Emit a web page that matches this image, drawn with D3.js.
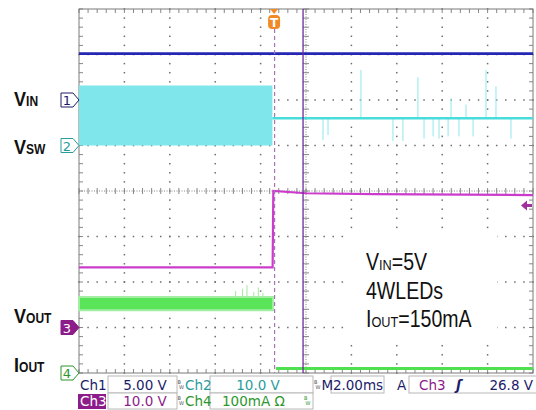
<!DOCTYPE html>
<html>
<head>
<meta charset="utf-8">
<script src="https://cdn.jsdelivr.net/npm/d3@7"></script>
<style>
  body { margin: 0; background: #fff; }
  svg { display: block; }
</style>
</head>
<body>
<svg id="scope" width="536" height="410"></svg>
<script>
// scope settings
const channelNames = ["Ch1", "Ch2", "Ch3", "Ch4"];
const channelScales = ["5.00 V", "10.0 V", "10.0 V", "100mA"];
const unitsPerDiv = [5, 10, 10, 100];
const channelPositions = [2, 1, -3, -4]; // divisions from centre
const channelLabels = [["V", "IN"], ["V", "SW"], ["V", "OUT"], ["I", "OUT"]];
const timeBase = "2.00ms";
const msPerDiv = 2;
const triggerSource = "Ch3";
const triggerLevelText = "26.8 V";
const triggerLevel = 26.8;
const triggerTime = -1.45; // ms
const cursorTime = -0.13;
const noteLines = [["V", "IN", "=5V"], ["4WLEDs", "", ""], ["I", "OUT", "=150mA"]];

// Ch1: VIN (V)
const ch1Time = [-10, 10];
const ch1Value = [5.1, 5.1];
// Ch2: VSW, switching band until OVP trips, then idle with spikes (V)
const ch2BandTime = [-10, -1.48];
const ch2BandLow = [0, 0];
const ch2BandHigh = [13.2, 13.2];
const ch2Time = [-1.48, 10];
const ch2Value = [6.0, 6.0];
const ch2SpikeTime = [0.75, 0.97, 2.42, 3.83, 4.27, 4.93, 5.2, 5.6, 5.86, 6.26, 6.39, 6.74, 7.05, 7.36, 7.93, 8.37, 9.03];
const ch2SpikeValue = [1.2, 2.3, 16.6, 1.0, 1.0, 15.0, 1.5, 2.0, 1.5, 2.0, 10.4, 2.0, 9.0, 2.0, 16.6, 13.0, 1.5];
// Ch3: VOUT (V)
const ch3Time = [-10, -1.47, -1.44, 0, 3, 10];
const ch3Value = [13.2, 13.2, 30.0, 29.5, 29.3, 29.1];
// Ch4: IOUT (mA)
const ch4BandTime = [-10, -1.45];
const ch4BandLow = [138, 138];
const ch4BandHigh = [167, 167];
const ch4SpikeTime = [-3.1, -2.8, -2.6, -2.3, -2.1, -1.9];
const ch4SpikeValue = [180, 185, 193, 178, 188, 176];
const ch4Time = [-1.32, 10];
const ch4Value = [10, 10];

const colors = ["#2626b4", "#48dcdc", "#cc3ccc", "#4ee04e"];
const textColors = ["#1c1c6a", "#2a9c9c", "#8c1c8a", "#2c962c"];

const svg = d3.select("#scope");
const pLeft = 79, pRight = 533, pTop = 9, pBottom = 373;
const x = d3.scaleLinear([-5 * msPerDiv, 5 * msPerDiv], [pLeft, pRight]);
const y = d3.scaleLinear([-4, 4], [pBottom, pTop]);
const yCh = (ch) => (v) => y(channelPositions[ch] + v / unitsPerDiv[ch]);
const minor = 0.2;

// --- graticule
const grid = svg.append("g").attr("fill", "#6e6e6e");
const dots = [];
for (let i = 1; i < 10; i++) {
  if (i === 5) continue;
  for (let j = 0; j <= 40; j++) dots.push([x(-10 + i * 2), y(-4 + j * minor)]);
}
for (let i = 1; i < 8; i++) {
  if (i === 4) continue;
  for (let j = 0; j <= 50; j++) dots.push([x(-10 + j * 2 * minor), y(-4 + i)]);
}
grid.selectAll("rect.dot").data(dots).join("rect").attr("class", "dot")
  .attr("x", (d) => d[0] - 0.75).attr("y", (d) => d[1] - 0.75).attr("width", 1.5).attr("height", 1.5);

const ticks = svg.append("g").attr("stroke", "#7a7a7a").attr("stroke-width", 0.9);
// centre axes, dotted with minor ticks
ticks.append("line").attr("x1", pLeft).attr("x2", pRight).attr("y1", y(0)).attr("y2", y(0)).attr("stroke-dasharray", "1,1.5");
ticks.append("line").attr("x1", x(0)).attr("x2", x(0)).attr("y1", pTop).attr("y2", pBottom).attr("stroke-dasharray", "1,1.5");
const hTicks = d3.range(0, 51).map((j) => -10 + j * 2 * minor);
const vTicks = d3.range(0, 41).map((j) => -4 + j * minor);
ticks.selectAll("line.hc").data(hTicks).join("line").attr("class", "hc")
  .attr("x1", (d) => x(d)).attr("x2", (d) => x(d)).attr("y1", y(0) - 3).attr("y2", y(0) + 3);
ticks.selectAll("line.vc").data(vTicks).join("line").attr("class", "vc")
  .attr("x1", x(0) - 3).attr("x2", x(0) + 3).attr("y1", (d) => y(d)).attr("y2", (d) => y(d));
// frame ticks
ticks.selectAll("line.ft").data(hTicks).join("line").attr("class", "ft")
  .attr("x1", (d) => x(d)).attr("x2", (d) => x(d)).attr("y1", pTop).attr("y2", pTop + 4);
ticks.selectAll("line.fb").data(hTicks).join("line").attr("class", "fb")
  .attr("x1", (d) => x(d)).attr("x2", (d) => x(d)).attr("y1", pBottom).attr("y2", pBottom - 4);
ticks.selectAll("line.fl").data(vTicks).join("line").attr("class", "fl")
  .attr("x1", pLeft).attr("x2", pLeft + 4).attr("y1", (d) => y(d)).attr("y2", (d) => y(d));
ticks.selectAll("line.fr").data(vTicks).join("line").attr("class", "fr")
  .attr("x1", pRight).attr("x2", pRight - 4).attr("y1", (d) => y(d)).attr("y2", (d) => y(d));
svg.append("rect").attr("x", pLeft).attr("y", pTop).attr("width", pRight - pLeft).attr("height", pBottom - pTop)
  .attr("fill", "none").attr("stroke", "#7a7a7a").attr("stroke-width", 1);

// --- note box (blanks out graticule behind it)
svg.append("rect").attr("x", 347).attr("y", 230).attr("width", 150).attr("height", 113).attr("fill", "#fff");

// --- traces
const zip = (ts, vs) => ts.map((t, i) => [t, vs[i]]);
const line = (ch) => d3.line().x((d) => x(d[0])).y((d) => yCh(ch)(d[1]));
const area = (ch) => d3.area().x((d) => x(d[0])).y0((d) => yCh(ch)(d[1])).y1((d) => yCh(ch)(d[2]));

// Ch2 band + idle + spikes
svg.append("path").datum(ch2BandTime.map((t, i) => [t, ch2BandLow[i], ch2BandHigh[i]]))
  .attr("d", area(1)).attr("fill", "#7fe6ec");
svg.selectAll("line.sp2").data(zip(ch2SpikeTime, ch2SpikeValue)).join("line").attr("class", "sp2")
  .attr("x1", (d) => x(d[0])).attr("x2", (d) => x(d[0]))
  .attr("y1", yCh(1)(ch2Value[0])).attr("y2", (d) => yCh(1)(d[1]))
  .attr("stroke", "#8ee8ec").attr("stroke-width", 1);
svg.append("path").datum(zip(ch2Time, ch2Value)).attr("d", line(1))
  .attr("fill", "none").attr("stroke", colors[1]).attr("stroke-width", 2.4);

// Ch1
svg.append("path").datum(zip(ch1Time, ch1Value)).attr("d", line(0))
  .attr("fill", "none").attr("stroke", colors[0]).attr("stroke-width", 2.6);

// Ch4 band + spikes + low level
svg.selectAll("line.sp4").data(zip(ch4SpikeTime, ch4SpikeValue)).join("line").attr("class", "sp4")
  .attr("x1", (d) => x(d[0])).attr("x2", (d) => x(d[0]))
  .attr("y1", yCh(3)(ch4BandHigh[0])).attr("y2", (d) => yCh(3)(d[1]))
  .attr("stroke", "#9cec9c").attr("stroke-width", 1);
svg.append("path").datum(ch4BandTime.map((t, i) => [t, ch4BandLow[i], ch4BandHigh[i]]))
  .attr("d", area(3)).attr("fill", "#5ae45a").attr("stroke", "#a4eea4").attr("stroke-width", 2);
svg.append("path").datum(zip(ch4Time, ch4Value)).attr("d", line(3))
  .attr("fill", "none").attr("stroke", colors[3]).attr("stroke-width", 3);

// Ch3
svg.append("path").datum(zip(ch3Time, ch3Value)).attr("d", line(2))
  .attr("fill", "none").attr("stroke", colors[2]).attr("stroke-width", 2.2);

// trigger position (dashed) and cursor
svg.append("line").attr("x1", x(triggerTime) + 1.5).attr("x2", x(triggerTime) + 1.5).attr("y1", pTop + 20).attr("y2", pBottom)
  .attr("stroke", "#a874b8").attr("stroke-width", 1.2).attr("stroke-dasharray", "4,3");
svg.append("line").attr("x1", x(cursorTime)).attr("x2", x(cursorTime)).attr("y1", pTop).attr("y2", pBottom)
  .attr("stroke", "#6c2a9c").attr("stroke-width", 1.3);

// trigger marker "T"
const tx = x(triggerTime) + 1;
const tm = svg.append("g").attr("transform", `translate(${tx},${pTop})`);
tm.append("path").attr("d", "M-4,0 L4,0 L0,5 Z").attr("fill", "#f08a26");
tm.append("rect").attr("x", -6).attr("y", 6).attr("width", 12).attr("height", 14).attr("rx", 4).attr("fill", "#f08a26");
tm.append("text").attr("y", 18).attr("text-anchor", "middle").attr("fill", "#fff")
  .attr("font-family", "DejaVu Sans").attr("font-weight", "bold").attr("font-size", 12).text("T");

// trigger level arrow on right edge
const ty = yCh(2)(triggerLevel);
svg.append("path").attr("d", `M${pRight - 12},${ty} l6,-5 v3.5 h5 v3 h-5 v3.5 Z`).attr("fill", "#a0309e");

// channel ground markers
const markers = svg.selectAll("g.mk").data(channelNames).join("g").attr("class", "mk")
  .attr("transform", (d, i) => `translate(${pLeft},${y(channelPositions[i])})`);
markers.append("path")
  .attr("d", "M-18,-7 H-6 L0,0 L-6,7 H-18 Z")
  .attr("fill", (d, i) => (i === 2 ? "#8c1c8a" : "#fff"))
  .attr("stroke", (d, i) => textColors[i]).attr("stroke-width", 1);
markers.append("text").attr("x", -12).attr("y", 5).attr("text-anchor", "middle")
  .attr("font-family", "DejaVu Sans").attr("font-size", 13)
  .attr("fill", (d, i) => (i === 2 ? "#fff" : textColors[i]))
  .text((d, i) => i + 1);

// left signal labels (narrow bold face, squeezed horizontally)
const labelBase = [106, 154, 323, 372];
const lab = svg.selectAll("text.lab").data(channelLabels).join("text").attr("class", "lab")
  .attr("transform", (d, i) => `translate(14,${labelBase[i]}) scale(0.86,1)`)
  .attr("font-family", "'Liberation Sans', Arial, sans-serif")
  .attr("font-weight", "bold").attr("fill", "#111");
lab.append("tspan").attr("font-size", 21).text((d) => d[0]);
lab.append("tspan").attr("font-size", 14).text((d) => d[1]);

// note text
const note = svg.selectAll("text.note").data(noteLines).join("text").attr("class", "note")
  .attr("transform", (d, i) => `translate(366,${270 + i * 28.5}) scale(0.85,1)`)
  .attr("font-family", "'Liberation Sans', Arial, sans-serif")
  .attr("fill", "#111");
note.append("tspan").attr("font-size", 23).text((d) => d[0]);
note.append("tspan").attr("font-size", 15).text((d) => d[1]);
note.append("tspan").attr("font-size", 23).text((d) => d[2]);

// --- status bar
const bar = svg.append("g").attr("font-family", "DejaVu Sans").attr("font-size", 13.5);
const box = (x0, y0, w, h) => bar.append("rect").attr("x", x0).attr("y", y0).attr("width", w).attr("height", h)
  .attr("fill", "#fff").attr("stroke", "#b8b8b8").attr("stroke-width", 1);
const txt = (x0, y0, s, c, anchor = "start") => bar.append("text").attr("x", x0).attr("y", y0)
  .attr("fill", c).attr("text-anchor", anchor).text(s);
// bandwidth-limit badge: tiny B over W
const bw = (x0, y0, c) => {
  bar.append("text").attr("x", x0).attr("y", y0 - 6).attr("font-size", 5).attr("fill", c).text("B");
  bar.append("text").attr("x", x0 + 1.5).attr("y", y0 - 1).attr("font-size", 5).attr("fill", c).text("W");
};
const r1 = 390, r2 = 406;
box(108, 376, 69, 17); box(210, 376, 103, 17); box(331, 376, 53, 17); box(409, 376, 128, 17);
box(108, 393, 69, 16); box(210, 393, 103, 16);
bar.append("rect").attr("x", 78).attr("y", 394).attr("width", 28).attr("height", 15).attr("fill", "#8c1c8a");

txt(80, r1, channelNames[0], textColors[0]);
txt(145, r1, channelScales[0], textColors[0], "middle");
bw(177.5, r1, "#555");
txt(185, r1, channelNames[1], textColors[1]);
txt(258, r1, channelScales[1], textColors[1], "middle");
bw(314, r1, "#555");
txt(321.5, r1, "M", "#1c1c6a");
txt(358, r1, timeBase, "#1c1c6a", "middle");
txt(397, r1, "A", "#1c1c6a");
txt(419, r1, triggerSource, textColors[2]);
bar.append("text").attr("x", 456).attr("y", r1).attr("fill", "#1c1c6a").attr("font-style", "italic")
  .attr("font-weight", "bold").text("ʃ");
txt(533, r1, triggerLevelText, "#1c1c6a", "end");

txt(80, r2, channelNames[2], "#fff");
txt(145, r2, channelScales[2], textColors[2], "middle");
bw(177.5, r2, "#555");
txt(185, r2, channelNames[3], textColors[3]);
txt(222, r2, channelScales[3] + " Ω", textColors[3]);
bw(304, r2, textColors[3]);
</script>
</body>
</html>
